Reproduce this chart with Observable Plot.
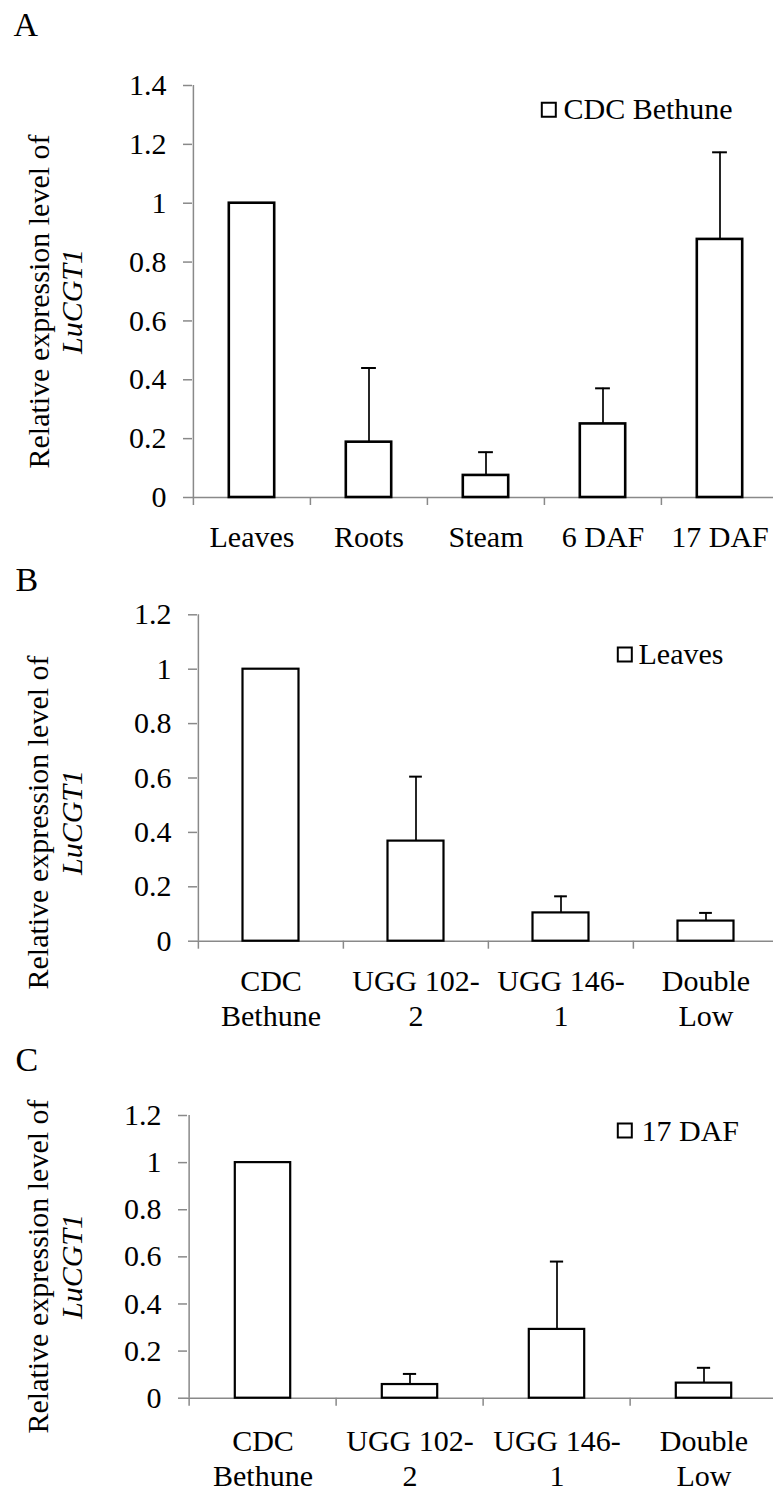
<!DOCTYPE html>
<html><head><meta charset="utf-8">
<script src="https://cdn.jsdelivr.net/npm/d3@7"></script>
<script src="https://cdn.jsdelivr.net/npm/@observablehq/plot@0.6"></script>
<style>
html,body{margin:0;padding:0;background:#fff;width:773px;height:1498px;overflow:hidden;}
.panel{position:absolute;left:0;}
svg text{font-family:'Liberation Serif','Times New Roman',serif !important;}
</style></head><body>
<div id="A" class="panel" style="top:0px"></div>
<div id="B" class="panel" style="top:555px"></div>
<div id="C" class="panel" style="top:1040px"></div>
<script>
// ---- data ----
const tissueCategories = ["Leaves", "Roots", "Steam", "6 DAF", "17 DAF"];
const tissueMeans = [1.0, 0.188, 0.075, 0.25, 0.877];
const tissueSD = [0, 0.252, 0.079, 0.121, 0.296];

const lineCategories = ["CDC\nBethune", "UGG 102-\n2", "UGG 146-\n1", "Double\nLow"];
const leavesMeans = [1.0, 0.368, 0.104, 0.074];
const leavesSD = [0, 0.237, 0.061, 0.03];
const dafMeans = [1.0, 0.058, 0.292, 0.064];
const dafSD = [0, 0.045, 0.288, 0.065];

const ticksA = [0, 0.2, 0.4, 0.6, 0.8, 1, 1.2, 1.4];
const ticksBC = [0, 0.2, 0.4, 0.6, 0.8, 1, 1.2];
const yTitle = "Relative expression level of";
const geneName = "LuCGT1";
const legendA = "CDC Bethune";
const legendB = "Leaves";
const legendC = "17 DAF";

const GRAY = "#898989";
const FS = 30;
const W = 773, BAND_END = 778;

function panel(c) {
  const data = c.cats.map((cat, i) => ({cat, mean: c.means[i], sd: c.sds[i], hi: c.means[i] + c.sds[i]}));
  const errs = data.filter(d => d.sd > 0);
  const bw = (BAND_END - c.ml) / c.cats.length;
  const frameCenter = (c.mt + c.height - c.mb) / 2;
  const ymax = c.ticks[c.ticks.length - 1];
  const chart = Plot.plot({
    width: W, height: c.height,
    marginLeft: c.ml, marginRight: 0, marginTop: c.mt, marginBottom: c.mb,
    style: `font-family: 'Liberation Serif', 'Times New Roman', serif; font-size: ${FS}px; background: white; color: black; overflow: visible;`,
    x: {type: "band", domain: c.cats, range: [c.ml, BAND_END], padding: 0, label: null},
    y: {domain: [0, ymax], label: null},
    marks: [
      Plot.ruleX([c.cats[0]], {x: d => d, y1: 0, y2: ymax, dx: -bw / 2, stroke: GRAY, strokeWidth: 1.5}),
      Plot.axisX({tickSize: 8, tickFormat: () => "", label: null, stroke: GRAY, strokeWidth: 1.5, dx: -bw / 2}),
      Plot.ruleY([0], {stroke: GRAY, strokeWidth: 1.5}),
      Plot.axisY({ticks: c.ticks, tickSize: 9, tickPadding: 17, label: null, tickFormat: d => String(+d.toFixed(1)), stroke: GRAY, strokeWidth: 1.5, fill: "black", fontSize: FS}),
      Plot.barY(data, {x: "cat", y: "mean", fill: "white", stroke: "black", strokeWidth: c.barStroke, insetLeft: c.inset, insetRight: c.inset}),
      Plot.ruleX(errs, {x: "cat", y1: "mean", y2: "hi", stroke: "black", strokeWidth: 1.7}),
      Plot.tickY(errs, {x: "cat", y: "hi", stroke: "black", strokeWidth: 2, insetLeft: (bw - c.cap) / 2, insetRight: (bw - c.cap) / 2}),
      Plot.text(c.cats, {x: d => d, text: d => d, frameAnchor: "bottom", textAnchor: "middle", lineAnchor: "top", dy: c.labelPad, lineHeight: 35 / FS, fontSize: FS, fill: "black"}),
      Plot.text([yTitle], {text: d => d, frameAnchor: "left", textAnchor: "middle", lineAnchor: "middle", rotate: -90, fontSize: FS, dx: c.t1x - c.ml, dy: c.tCenter - c.top - frameCenter, fill: "black"}),
      Plot.text([geneName], {text: d => d, frameAnchor: "left", textAnchor: "middle", lineAnchor: "middle", rotate: -90, fontSize: FS, fontStyle: "italic", dx: c.t2x - c.ml, dy: c.tCenter - c.top - frameCenter, fill: "black"}),
      Plot.dot([0], {frameAnchor: "top-left", symbol: "square", r: 7.9, fill: "white", stroke: "black", strokeWidth: 2, dx: c.sqx - c.ml, dy: c.sqy - c.top - c.mt}),
      Plot.text([c.legend], {text: d => d, frameAnchor: "top-left", textAnchor: "start", lineAnchor: "middle", fontSize: FS, dx: c.lx - c.ml, dy: c.lb - c.top - c.mt - 0.32 * FS, fill: "black"}),
      Plot.text([c.letter], {text: d => d, frameAnchor: "top-left", textAnchor: "start", lineAnchor: "middle", fontSize: 34, dx: c.letterX - c.ml, dy: c.letterB - c.top - c.mt - 0.32 * 34, fill: "black"})
    ]
  });
  document.getElementById(c.id).appendChild(chart);
}

panel({id: "A", letter: "A", legend: legendA, cats: tissueCategories, means: tissueMeans, sds: tissueSD, ticks: ticksA,
  top: 0, height: 555, ml: 192, mt: 85, mb: 58, inset: 35.8, barStroke: 2.6, cap: 15, labelPad: 25,
  t1x: 39, t2x: 72, tCenter: 301, sqx: 548.3, sqy: 109.2, lx: 563, lb: 118, letterX: 13, letterB: 35});

panel({id: "B", letter: "B", legend: legendB, cats: lineCategories, means: leavesMeans, sds: leavesSD, ticks: ticksBC,
  top: 555, height: 485, ml: 197, mt: 59.3, mb: 99.3, inset: 44.5, barStroke: 2.2, cap: 13, labelPad: 25,
  t1x: 38, t2x: 72, tCenter: 822, sqx: 624.3, sqy: 654, lx: 638, lb: 663, letterX: 15, letterB: 590});

panel({id: "C", letter: "C", legend: legendC, cats: lineCategories, means: dafMeans, sds: dafSD, ticks: ticksBC,
  top: 1040, height: 458, ml: 187, mt: 75, mb: 100.3, inset: 45.8, barStroke: 2.2, cap: 14, labelPad: 28,
  t1x: 38, t2x: 72, tCenter: 1266, sqx: 624.3, sqy: 1130, lx: 641, lb: 1140, letterX: 15, letterB: 1070});
</script>
</body></html>
